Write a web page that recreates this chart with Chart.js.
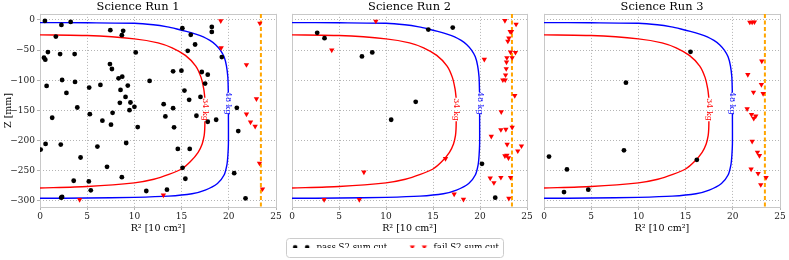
<!DOCTYPE html>
<html><head><meta charset="utf-8">
<script src="https://cdn.jsdelivr.net/npm/chart.js@4.4.1/dist/chart.umd.min.js"></script>
<style>
html,body{margin:0;padding:0;background:#fff;}
#wrap{position:relative;width:789px;height:260px;overflow:hidden;background:#fff;}
canvas{position:absolute;}
</style></head><body>
<div id="wrap">
<canvas id="p1" width="284" height="240" style="left:0px;top:0px"></canvas>
<canvas id="p2" width="251" height="240" style="left:284px;top:0px"></canvas>
<canvas id="p3" width="252" height="240" style="left:536px;top:0px"></canvas>
<canvas id="leg" width="789" height="50" style="left:0px;top:223px"></canvas>
</div>
<script>
// ---------- data ----------
const panelTitles = ['Science Run 1', 'Science Run 2', 'Science Run 3'];
const xTicks = [0, 5, 10, 15, 20, 25];
const yTicks = [0, -50, -100, -150, -200, -250, -300];
const xRange = [0, 25];
const yRange = [-310, 10];
const fvCutR2 = 23.4;

const run1Pass = [[0.52,-1.6],[2.27,-8.2],[3.25,-3.3],[1.68,-27.5],[7.45,-17],[8.81,-18],[8.67,-25.3],[0.84,-53.3],[0.42,-62.6],[0.56,-65.9],[2.13,-56.6],[3.67,-56.6],[10.14,-53.9],[7.41,-73.1],[7.62,-81.3],[0.7,-109.4],[2.34,-99.5],[3.71,-102.8],[2.8,-120.9],[5.21,-112.1],[6.4,-107.7],[8.32,-96.7],[8.71,-94],[8.53,-115.9],[9.3,-108.8],[11.61,-101.1],[9.06,-127.5],[9.58,-136.8],[8.46,-137.4],[10.0,-144],[3.95,-145.1],[9.48,-149.5],[1.29,-162.1],[5.28,-156.1],[7.69,-153.9],[6.61,-167],[7.52,-173.6],[10.35,-177.5],[0.07,-214.9],[0.59,-205.5],[2.2,-206.6],[6.08,-209.9],[9.13,-203.9],[4.3,-228],[7.1,-243.4],[3.57,-266.5],[5.17,-267.6],[8.67,-260.5],[5.38,-282.4],[11.26,-283.5],[2.24,-294.5],[2.34,-293.4],
  [18.2,-11.5],[18.2,-19.8],[15.08,-13.7],[15.97,-24.7],[16.43,-40.7],[15.65,-51.1],[19.26,-61.5],[14.1,-85.2],[14.98,-84.1],[17.14,-86.3],[17.77,-90.7],[17.49,-105.5],[15.3,-117],[15.8,-132.4],[17.0,-127.5],[13.1,-139.6],[14.1,-146.2],[13.28,-159.9],[16.57,-158.8],[17.77,-168.7],[18.66,-165.4],[20.85,-145.6],[14.2,-178],[21.0,-184.1],[14.6,-213.8],[15.86,-213.8],[15.1,-245],[15.4,-263.2],[20.57,-253.9],[13.45,-281.3],[21.77,-295.6]];
const run1Fail = [[19.15,-1.6],[23.29,-5.5],[19.19,-46.2],[21.87,-74.2],[22.93,-130.8],[21.87,-156.1],[22.3,-169.2],[22.79,-176.4],[23.25,-237.4],[23.57,-280.2],[13.07,-290.3],[4.2,-297.8]];

const run2Pass = [[2.68,-21.4],[3.46,-30.2],[7.44,-60.4],[8.54,-53.9],[14.5,-15.9],[17.1,-12.6],[13.16,-135.7],[10.55,-165.4],[20.21,-238.5],[21.62,-294.5]];
const run2Fail = [[8.92,-2.2],[22.65,-1.1],[23.84,-7.1],[23.21,-19.2],[23.35,-19.2],[23.07,-30.2],[22.96,-35.2],[4.23,-50],[23.25,-53.3],[23.77,-53.9],[22.86,-62.6],[23.42,-62.6],[20.46,-65.4],[22.82,-69.8],[22.79,-80.8],[22.72,-91.2],[22.43,-99.5],[22.68,-99.5],[23.7,-125.3],[22.26,-152.2],[22.22,-181.9],[22.75,-181.3],[23.42,-178],[21.2,-192.9],[22.89,-206.1],[24.41,-208.8],[24.02,-217.1],[22.65,-225.3],[22.86,-224.2],[23.03,-228.6],[16.33,-229.7],[7.65,-252.2],[21.09,-262.1],[22.22,-261],[23.25,-261],[21.48,-269.8],[17.25,-288.5],[18.24,-297.3],[3.42,-297.8],[7.16,-297.8],[23.07,-295.6]];

const run3Pass = [[15.52,-52.8],[8.68,-103.9],[8.47,-216],[0.53,-226.4],[16.19,-231.9],[2.43,-247.8],[4.69,-281.3],[2.12,-285.2]];
const run3Fail = [[21.8,-3.8],[22.05,-3.8],[22.29,-3.3],[23.07,-68.1],[21.59,-90.7],[23.03,-107.2],[22.19,-119.8],[23.21,-122],[21.52,-147.3],[21.98,-156.6],[22.43,-159.4],[22.22,-163.2],[22.05,-201.1],[22.61,-219.3],[22.82,-224.7],[21.94,-247.3],[22.68,-254.4],[23.53,-261],[22.96,-273.1]];

// fiducial volume contours (null = gap for the inline label)
const contour48R2 = [0,5,10,12,13.5,14.5,15.5,16.5,17.3,18,18.6,19.1,19.5,19.75,19.9,19.95,null,19.96,19.96,19.9,19.8,19.5,18.8,17.5,16.1,13.6,10,5,0];
const contour48Z  = [-4.4,-4.7,-5.5,-8,-11.5,-15,-19,-23.5,-28,-34,-41,-50,-61,-76,-95,-120,null,-156,-205,-225,-240,-257,-271,-282,-288,-292,-294,-295.2,-295.6];
const contour34R2 = [0,5,10,12.5,14,15.4,16.5,17.07,17.35,17.46,null,17.47,17.45,17.39,17.18,16.75,15.94,15,13.65,12.06,10,5,0];
const contour34Z  = [-24.7,-25.8,-31.3,-37.9,-46.2,-58.8,-76.4,-95.6,-114.8,-129,null,-168,-181,-191.8,-205.5,-219.3,-234.6,-247,-256,-264,-270,-276,-278.5];
const contourLabels = [
  {text: '48 kg', r2: 19.96, z: -138, color: '#0000ff'},
  {text: '34 kg', r2: 17.46, z: -148.5, color: '#ff0000'}
];
const legendLabels = ['pass S2 sum cut', 'fail S2 sum cut'];

// ---------- rendering ----------
const SERIF = "'DejaVu Serif', 'Liberation Serif', serif";
const pairs = a => a.map(([x, y]) => ({x, y}));
const zip = (xs, ys) => xs.map((x, i) => ({x: x, y: ys[i]}));
const fmtMinus = v => String(v).replace('-', '\u2212');

const framePlugin = {
  id: 'frame',
  beforeDatasetsDraw(chart) {
    const {ctx, chartArea: a} = chart;
    ctx.save();
    ctx.strokeStyle = '#c8c8c8';
    ctx.lineWidth = 1;
    ctx.strokeRect(Math.round(a.left) + 0.5, Math.round(a.top) + 0.5, Math.round(a.right - a.left), Math.round(a.bottom - a.top));
    ctx.restore();
  }
};
const labelPlugin = {
  id: 'contourLabels',
  afterDatasetsDraw(chart) {
    const {ctx, scales: {x, y}} = chart;
    contourLabels.forEach(l => {
      ctx.save();
      ctx.translate(x.getPixelForValue(l.r2), y.getPixelForValue(l.z));
      ctx.rotate(Math.PI / 2);
      ctx.font = '8px ' + SERIF;
      ctx.fillStyle = l.color;
      ctx.textAlign = 'center';
      ctx.textBaseline = 'middle';
      ctx.fillText(l.text, 0, 0);
      ctx.restore();
    });
  }
};

function makePanel(id, idx, pass, fail, showY) {
  return new Chart(document.getElementById(id), {
    type: 'scatter',
    data: {
      datasets: [
        {label: 'pass', data: pairs(pass), pointStyle: 'circle', pointRadius: 2.4, backgroundColor: '#000', borderWidth: 0},
        {label: 'fail', data: pairs(fail), pointStyle: 'triangle', rotation: 180, pointRadius: 3.1, backgroundColor: '#ff0000', borderWidth: 0},
        {label: '48 kg', data: zip(contour48R2, contour48Z), showLine: true, borderColor: '#0000ff', borderWidth: 1.4, pointRadius: 0, tension: 0.25, spanGaps: false},
        {label: '34 kg', data: zip(contour34R2, contour34Z), showLine: true, borderColor: '#ff0000', borderWidth: 1.4, pointRadius: 0, tension: 0.25, spanGaps: false},
        {label: 'cut', data: [{x: fvCutR2, y: yRange[1]}, {x: fvCutR2, y: yRange[0]}], showLine: true, borderColor: '#ffa500', borderDash: [4, 2.5], borderWidth: 2, pointRadius: 0}
      ]
    },
    options: {
      responsive: false, animation: false, devicePixelRatio: 1,
      layout: {padding: {left: showY ? 0 : 8, right: 8, top: 0, bottom: 0}},
      plugins: {
        legend: {display: false}, tooltip: {enabled: false},
        title: {display: true, text: panelTitles[idx], color: '#000', font: {family: SERIF, size: 11.4, weight: 'normal', lineHeight: 1.22}, padding: {top: 0, bottom: 0}}
      },
      scales: {
        x: {
          type: 'linear', min: xRange[0], max: xRange[1],
          afterBuildTicks: s => { s.ticks = xTicks.map(v => ({value: v})); },
          afterFit: s => { s.height = 33; },
          grid: {color: '#b4b4b4', lineWidth: 1, drawTicks: true, tickLength: 3, tickColor: '#b4b4b4'},
          border: {display: false, dash: [1, 2]},
          ticks: {font: {family: SERIF, size: 9}, color: '#222', padding: 1, maxRotation: 0, autoSkip: false},
          title: {display: true, text: 'R\u00B2 [10 cm\u00B2]', color: '#000', font: {family: SERIF, size: 9.5}, padding: {top: 0, bottom: 6}}
        },
        y: {
          type: 'linear', min: yRange[0], max: yRange[1],
          afterBuildTicks: s => { s.ticks = yTicks.map(v => ({value: v})); },
          afterFit: s => { s.width = showY ? 40 : 0; },
          grid: {color: '#b4b4b4', lineWidth: 1, drawTicks: showY, tickLength: 3, tickColor: '#b4b4b4'},
          border: {display: false, dash: [1, 2]},
          ticks: {display: showY, font: {family: SERIF, size: 9}, color: '#222', padding: 2, callback: v => fmtMinus(v)},
          title: {display: showY, text: 'Z [mm]', color: '#000', font: {family: SERIF, size: 9.5}, padding: {top: 3, bottom: 0}}
        }
      }
    },
    plugins: [framePlugin, labelPlugin]
  });
}

makePanel('p1', 0, run1Pass, run1Fail, true);
makePanel('p2', 1, run2Pass, run2Fail, false);
makePanel('p3', 2, run3Pass, run3Fail, false);

// legend icons (two markers, as in the reference legend)
function icon(kind) {
  const c = document.createElement('canvas');
  c.width = 22; c.height = 8;
  const g = c.getContext('2d');
  [5, 17].forEach(cx => {
    g.beginPath();
    if (kind === 'dot') {
      g.fillStyle = '#000';
      g.arc(cx, 4, 2.3, 0, Math.PI * 2);
    } else {
      g.fillStyle = '#ff0000';
      g.moveTo(cx - 2.6, 2.2); g.lineTo(cx + 2.6, 2.2); g.lineTo(cx, 6.6); g.closePath();
    }
    g.fill();
  });
  return c;
}
const passIcon = icon('dot');
const failIcon = icon('tri');

const legendFrame = {
  id: 'legendFrame',
  beforeDraw(chart) {
    const hb = chart.legend && chart.legend.legendHitBoxes;
    if (!hb || !hb.length) return;
    const last = hb[hb.length - 1];
    const l = hb[0].left - 4, r = last.left + last.width + 4;
    const t = hb[0].top - 5, b = hb[0].top + hb[0].height + 5;
    const ctx = chart.ctx;
    ctx.save();
    ctx.fillStyle = '#fff';
    ctx.strokeStyle = '#cccccc';
    ctx.lineWidth = 1;
    ctx.beginPath();
    ctx.roundRect(Math.round(l) + 0.5, Math.round(t) + 0.5, Math.round(r - l), Math.round(b - t), 3);
    ctx.fill(); ctx.stroke();
    ctx.restore();
  }
};

new Chart(document.getElementById('leg'), {
  type: 'scatter',
  data: {datasets: [
    {label: legendLabels[0], data: [], pointStyle: passIcon},
    {label: legendLabels[1], data: [], pointStyle: failIcon}
  ]},
  options: {
    responsive: false, animation: false, devicePixelRatio: 1,
    layout: {padding: 0},
    scales: {x: {display: false}, y: {display: false}},
    plugins: {
      tooltip: {enabled: false},
      legend: {
        display: true, position: 'top',
        labels: {
          usePointStyle: true, pointStyleWidth: 22, padding: 20, color: '#000',
          font: {family: SERIF, size: 8.6},
          generateLabels: () => [
            {text: legendLabels[0], pointStyle: passIcon, fillStyle: '#000', strokeStyle: '#000', lineWidth: 0, hidden: false, datasetIndex: 0, fontColor: '#000'},
            {text: legendLabels[1], pointStyle: failIcon, fillStyle: '#f00', strokeStyle: '#f00', lineWidth: 0, hidden: false, datasetIndex: 1, fontColor: '#000'}
          ]
        }
      }
    }
  },
  plugins: [legendFrame]
});
</script>
</body></html>
